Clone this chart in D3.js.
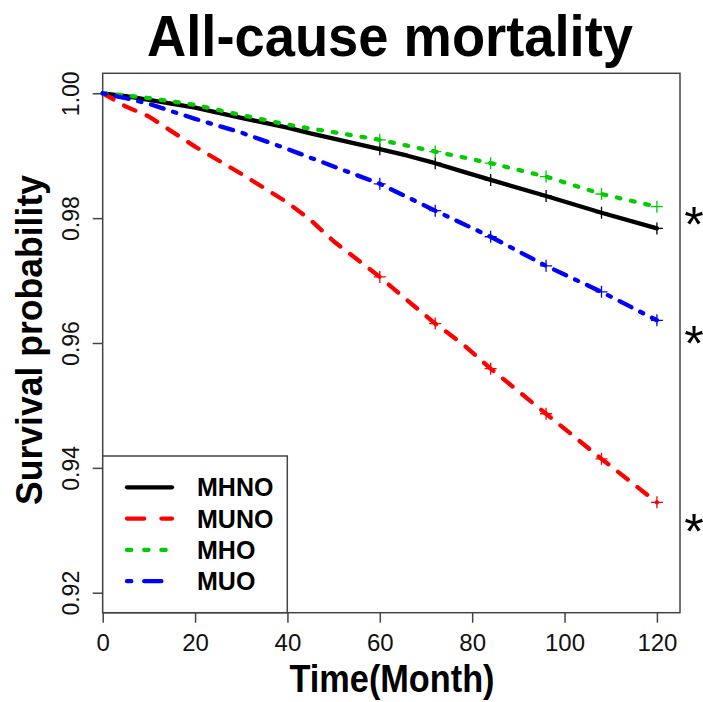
<!DOCTYPE html>
<html>
<head>
<meta charset="utf-8">
<script src="https://cdn.jsdelivr.net/npm/d3@7"></script>
<style>
  html, body { margin: 0; padding: 0; background: #fff; }
  svg { display: block; font-family: "Liberation Sans", Arial, sans-serif; }
</style>
</head>
<body>
<svg id="chart" width="703" height="702"></svg>
<script>
// ---- data ----
const times = [0, 5, 10, 20, 30, 40, 45, 50, 60, 66, 72, 78, 84, 96, 108, 120];
const mhno  = [1, 0.99955, 0.99896, 0.99770, 0.99607, 0.99450, 0.99357, 0.99275, 0.99105, 0.99000, 0.98880, 0.98745, 0.98612, 0.98355, 0.98087, 0.97836];
const muno  = [1, 0.99788, 0.99628, 0.99145, 0.98710, 0.98250, 0.97970, 0.97630, 0.97059, 0.96680, 0.96311, 0.95980, 0.95589, 0.94867, 0.94144, 0.93448];
const mho   = [1, 0.99965, 0.99923, 0.99815, 0.99650, 0.99499, 0.99435, 0.99376, 0.99254, 0.99160, 0.99066, 0.98975, 0.98880, 0.98665, 0.98387, 0.98183];
const muo   = [1, 0.99920, 0.99831, 0.99590, 0.99370, 0.99108, 0.98967, 0.98828, 0.98550, 0.98335, 0.98119, 0.97910, 0.97702, 0.97236, 0.96819, 0.96364];
const seriesNames = ["MHNO", "MUNO", "MHO", "MUO"];
const censorTimes = [60, 72, 84, 96, 108, 120];
const xTicks = [0, 20, 40, 60, 80, 100, 120];
const yTicks = [0.92, 0.94, 0.96, 0.98, 1.00];
const yTickLabels = ["0.92", "0.94", "0.96", "0.98", "1.00"];
const asteriskValues = [0.9808, 0.9617, 0.9316];
const titleText = "All-cause mortality";
const xLabel = "Time(Month)";
const yLabel = "Survival probability";

// ---- styles ----
const colors = { MHNO: "#000000", MUNO: "#ff0000", MHO: "#00cc00", MUO: "#0000ff" };
const LW = 4.3;
const dashBase = {
  MHNO: null,
  MUNO: [4 * LW, 4 * LW],
  MHO: [1 * LW, 3 * LW],
  MUO: [1 * LW, 3 * LW, 4 * LW, 3 * LW]
};
const values = { MHNO: mhno, MUNO: muno, MHO: mho, MUO: muo };

const svg = d3.select("#chart");
const pL = 102.7, pR = 680, pT = 73.3, pB = 612.7;

const x = d3.scaleLinear().domain([0, 125]).range([pL, pR]);
const y = d3.scaleLinear().domain([0.9168, 1.0032]).range([pB, pT]);

const frameColor = "#444";

// plot frame
svg.append("rect")
  .attr("x", pL).attr("y", pT)
  .attr("width", pR - pL).attr("height", pB - pT)
  .attr("fill", "none").attr("stroke", frameColor).attr("stroke-width", 1.5);

// x axis
const xAxis = svg.append("g").attr("transform", `translate(0,${pB})`)
  .call(d3.axisBottom(x).tickValues(xTicks).tickSize(10).tickPadding(5).tickFormat(d3.format("d")));
xAxis.select(".domain").remove();
xAxis.selectAll("line").attr("stroke", frameColor).attr("stroke-width", 1.5);
xAxis.selectAll("text").attr("font-size", 24).attr("fill", "#111")
  .attr("font-family", "Liberation Sans, Arial, sans-serif")
  .attr("dy", null).attr("y", 38);

// y axis
const yAxis = svg.append("g").attr("transform", `translate(${pL},0)`)
  .call(d3.axisLeft(y).tickValues(yTicks).tickSize(10).tickFormat((d, i) => yTickLabels[i]));
yAxis.select(".domain").remove();
yAxis.selectAll("line").attr("stroke", frameColor).attr("stroke-width", 1.5);
yAxis.selectAll("text")
  .attr("font-size", 23).attr("fill", "#111")
  .attr("font-family", "Liberation Sans, Arial, sans-serif")
  .attr("x", null).attr("dy", null)
  .attr("text-anchor", "middle")
  .attr("transform", "translate(-23.5,0) rotate(-90)");

// curves
const line = d3.line().x(d => x(d[0])).y(d => y(d[1]));
seriesNames.forEach(name => {
  const pts = times.map((t, i) => [t, values[name][i]]);
  const path = svg.append("path")
    .attr("d", line(pts))
    .attr("fill", "none")
    .attr("stroke", colors[name])
    .attr("stroke-width", LW)
    .attr("stroke-linecap", "round")
    .attr("stroke-linejoin", "round");
  if (dashBase[name]) {
    let eu = 0, man = 0;
    for (let i = 1; i < pts.length; i++) {
      const dx = x(pts[i][0]) - x(pts[i - 1][0]);
      const dy = y(pts[i][1]) - y(pts[i - 1][1]);
      eu += Math.hypot(dx, dy);
      man += Math.abs(dx) + Math.abs(dy);
    }
    const f = eu / man;
    path.attr("stroke-dasharray", dashBase[name].map(v => v * f).join(" "));
  }
  censorTimes.forEach(ct => {
    const idx = times.indexOf(ct);
    const cx = x(ct), cy = y(values[name][idx]);
    svg.append("path")
      .attr("d", `M${cx - 6},${cy}H${cx + 6}M${cx},${cy - 6}V${cy + 6}`)
      .attr("stroke", colors[name]).attr("stroke-width", 1.3).attr("fill", "none");
  });
});

// legend
const lgLeft = pL, lgTop = 456, lgRight = 287.3;
svg.append("rect")
  .attr("x", lgLeft).attr("y", lgTop)
  .attr("width", lgRight - lgLeft).attr("height", pB - lgTop)
  .attr("fill", "#fff").attr("stroke", frameColor).attr("stroke-width", 1.5);
seriesNames.forEach((name, i) => {
  const ly = 487.3 + i * 31.3;
  const l = svg.append("line")
    .attr("x1", 127).attr("x2", 172).attr("y1", ly).attr("y2", ly)
    .attr("stroke", colors[name]).attr("stroke-width", LW)
    .attr("stroke-linecap", "round");
  if (dashBase[name]) l.attr("stroke-dasharray", dashBase[name].join(" "));
  svg.append("text")
    .attr("x", 197).attr("y", ly + 9)
    .attr("font-size", 25).attr("font-weight", "bold").attr("fill", "#000")
    .text(name);
});

// asterisks
asteriskValues.forEach(v => {
  svg.append("text")
    .attr("x", 694).attr("y", y(v) + 29)
    .attr("text-anchor", "middle")
    .attr("font-size", 50).attr("fill", "#000")
    .text("*");
});

// title
svg.append("text")
  .attr("x", 390).attr("y", 56)
  .attr("text-anchor", "middle")
  .attr("font-size", 57).attr("font-weight", "bold").attr("fill", "#000")
  .attr("textLength", 486).attr("lengthAdjust", "spacingAndGlyphs")
  .text(titleText);

// x label
svg.append("text")
  .attr("x", 392).attr("y", 692)
  .attr("text-anchor", "middle")
  .attr("font-size", 38).attr("font-weight", "bold").attr("fill", "#000")
  .attr("textLength", 205).attr("lengthAdjust", "spacingAndGlyphs")
  .text(xLabel);

// y label
svg.append("text")
  .attr("transform", `translate(41.5,340) rotate(-90)`)
  .attr("text-anchor", "middle")
  .attr("font-size", 36).attr("font-weight", "bold").attr("fill", "#000")
  .attr("textLength", 330).attr("lengthAdjust", "spacingAndGlyphs")
  .text(yLabel);
</script>
</body>
</html>
